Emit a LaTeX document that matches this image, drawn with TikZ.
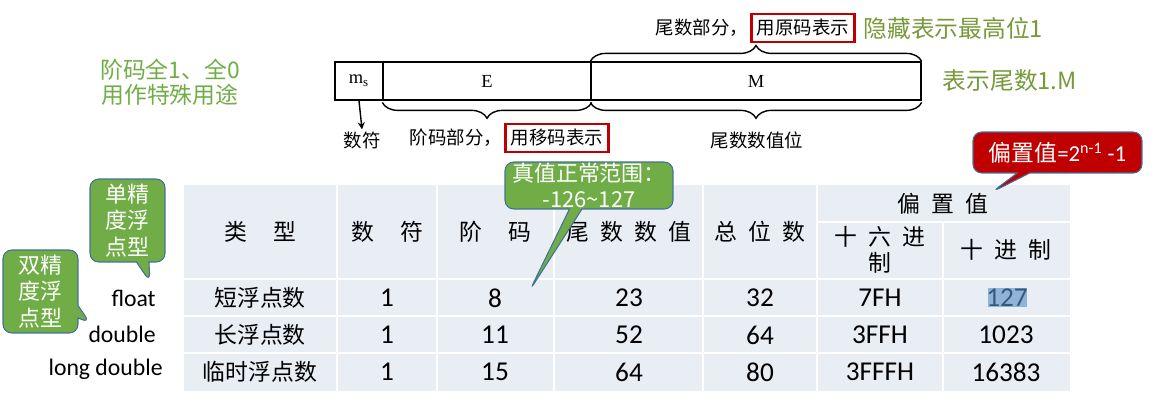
\documentclass[tikz,border=0pt]{standalone}
\usepackage{fontspec}
\setmainfont{Carlito}
\newfontfamily\cjk{Noto Sans CJK SC}
\newfontfamily\tms{Liberation Serif}
\usetikzlibrary{arrows, positioning, shapes.callouts, decorations.pathreplacing}

\definecolor{tablebg}{HTML}{E9EDF4}
\definecolor{leafgreen}{HTML}{70AD47}
\definecolor{olivegreen}{HTML}{77993A}
\definecolor{darkred}{HTML}{C00000}
\definecolor{edgeblue}{HTML}{41719C}
\definecolor{selblue}{HTML}{8FB4D6}
\newcommand{\hgap}{\hspace{0.5em}}
\newcommand{\wgap}{\hspace{1.15em}}

\begin{document}
\begin{tikzpicture}[
            x = 0.02cm, y = -0.02cm, % one unit = one pixel of the sketch
            > = stealth, % arrow head style
            bitcell/.style = {draw = black, line width = 0.8pt, minimum height = 0.76cm,
                              inner sep = 0pt, font = \tms\fontsize{10.5}{12}\selectfont},
            small/.style = {font = \cjk\fontsize{10.5}{12}\selectfont, inner sep = 1pt},
            redbox/.style = {small, draw = darkred, line width = 1.6pt, inner xsep = 3pt,
                             minimum height = 0.56cm},
            note/.style = {text = olivegreen, font = \cjk\fontsize{13.5}{16}\selectfont},
            brace/.style = {decorate, line width = 0.8pt,
                            decoration = {brace, amplitude = 9pt}},
            head/.style = {font = \cjk\fontsize{13}{15}\selectfont, align = center},
            kind/.style = {font = \cjk\fontsize{13}{15}\selectfont},
            cell/.style = {font = \fontsize{15.5}{17}\selectfont},
            ctype/.style = {font = \fontsize{13.5}{16}\selectfont, anchor = east, inner sep = 0pt},
            bubble/.style = {rectangle callout, rounded corners = 5pt, draw = edgeblue,
                             line width = 0.6pt, text = white, align = center, inner sep = 0pt,
                             font = \cjk\fontsize{12.5}{15}\selectfont}
        ]

        \useasboundingbox (0,0) rectangle (1157,406);

        % bit layout
        \node[bitcell, minimum width = 0.96cm] (ms) at (359,81) {m\textsubscript{s}};
        \node[bitcell, minimum width = 4.16cm] (E) at (487,81) {E};
        \node[bitcell, minimum width = 6.6cm] (M) at (756,81) {M};

        \draw[brace] (M.north west) -- (M.north east);
        \draw[brace, decoration = {mirror, raise = 1pt}] (E.south west) -- (E.south east);
        \draw[brace, decoration = {mirror, raise = 1pt}] (M.south west) -- (M.south east);

        \node[redbox] (origbox) at (803,28) {用原码表示};
        \node[small, left = 0pt of origbox] (mpart) {尾数部分，};
        \node[note, right = 1pt of origbox] (hidden) {隐藏表示最高位1};
        \node[note, right = 0.3cm of M] (onedotm) {表示尾数1.M};

        \node[small] (sign) at (362,140) {数符};
        \node[redbox] (biasbox) at (557,138) {用移码表示};
        \node[small, left = 0pt of biasbox] (epart) {阶码部分，};
        \node[small] (mval) at (757,140) {尾数数值位};
        \draw[->, line width = 0.8pt] (ms.south) -- (sign.north);

        \node[note, text = leafgreen, align = center, font = \cjk\fontsize{13}{14.2}\selectfont]
            (special) at (170,82) {阶码全1、全0\\用作特殊用途};

        % table
        \fill[tablebg] (184,185) rectangle (1070,391);
        \fill[selblue] (988,288) rectangle (1027,307);
        \draw[white, line width = 1.2pt]
            (337,185) -- (337,391)  (437,185) -- (437,391)  (554,185) -- (554,391)
            (703,185) -- (703,391)  (817,185) -- (817,391)  (943,222) -- (943,391)
            (184,279) -- (1070,279) (184,316) -- (1070,316) (184,353) -- (1070,353)
            (817,222) -- (1070,222);

        \node[head] (htype) at (260,232) {类\wgap 型};
        \node[head] (hsign) at (387,232) {数\wgap 符};
        \node[head] (hexp) at (495,232) {阶\wgap 码};
        \node[head] (hmant) at (629,232) {尾\hgap 数\hgap 数\hgap 值};
        \node[head] (hbits) at (760,232) {总\hgap 位\hgap 数};
        \node[head] (hbias) at (943,204) {偏\hgap 置\hgap 值};
        \node[head] (hhex) at (880,250) {十\hgap 六\hgap 进\\制};
        \node[head] (hdec) at (1006,250) {十\hgap 进\hgap 制};

        \node[kind] (short) at (260,298) {短浮点数};
        \node[cell] (s1) at (387,298) {1};
        \node[cell] (s2) at (495,298) {8};
        \node[cell] (s3) at (629,298) {23};
        \node[cell] (s4) at (760,298) {32};
        \node[cell] (s5) at (880,298) {7FH};
        \node[cell, text = edgeblue!80!black] (s6) at (1007,298) {127};

        \node[kind] (long) at (260,335) {长浮点数};
        \node[cell] (l1) at (387,335) {1};
        \node[cell] (l2) at (495,335) {11};
        \node[cell] (l3) at (629,335) {52};
        \node[cell] (l4) at (760,335) {64};
        \node[cell] (l5) at (880,335) {3FFH};
        \node[cell] (l6) at (1006,335) {1023};

        \node[kind] (temp) at (260,372) {临时浮点数};
        \node[cell] (t1) at (387,372) {1};
        \node[cell] (t2) at (495,372) {15};
        \node[cell] (t3) at (629,372) {64};
        \node[cell] (t4) at (760,372) {80};
        \node[cell] (t5) at (880,372) {3FFFH};
        \node[cell] (t6) at (1006,372) {16383};

        \node[ctype] (cfloat) at (156,298) {float};
        \node[ctype] (cdouble) at (156,334) {double};
        \node[ctype] (clong) at (163,369) {long double};

        % callouts
        \coordinate (singletip) at (150,282);
        \coordinate (doubletip) at (90,323);
        \coordinate (rangetip) at (530,290);
        \coordinate (biastip) at (992,192);

        \node[bubble, fill = leafgreen, minimum width = 1.5cm, minimum height = 1.66cm,
              callout absolute pointer = {(singletip)}] (single) at (127.5,220.5) {单精\\度浮\\点型};
        \node[bubble, fill = leafgreen, minimum width = 1.5cm, minimum height = 1.66cm,
              callout absolute pointer = {(doubletip)}] (double) at (40.5,291.5) {双精\\度浮\\点型};
        \node[bubble, fill = leafgreen, minimum width = 3.36cm, minimum height = 0.94cm,
              callout absolute pointer = {(rangetip)}] (range) at (589,185.5)
              {真值正常范围：\\-126\textasciitilde127};
        \node[bubble, fill = darkred, minimum width = 3.38cm, minimum height = 0.82cm,
              font = \fontsize{13}{15}\selectfont,
              callout absolute pointer = {(biastip)}] (bias) at (1057.5,152.5)
              {{\cjk 偏置值}=2\textsuperscript{n-1} -1};

\end{tikzpicture}
\end{document}
